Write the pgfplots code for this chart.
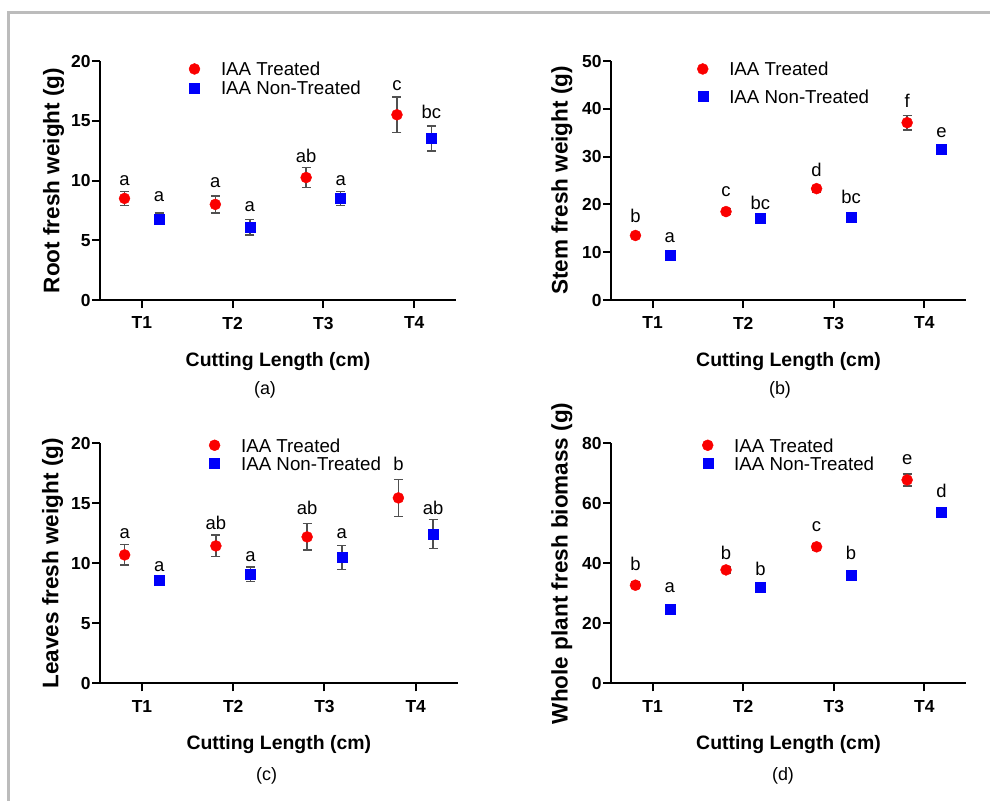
\documentclass[border=0pt]{standalone}
\usepackage{fontspec}
\setmainfont{Liberation Sans}
\usepackage{pgfplots}
\pgfplotsset{compat=1.18}
\definecolor{myred}{RGB}{250,0,0}
\definecolor{myblue}{RGB}{0,0,250}
\definecolor{errgray}{RGB}{80,80,80}
\definecolor{framegray}{RGB}{188,188,188}
\pgfplotsset{
  panel/.style={
    scale only axis, width=356bp, height=239bp,
    xmin=0.54, xmax=4.46, ymin=0,
    axis lines=left, axis line style={line width=2bp, -},
    xtick={1,2,3,4}, xticklabels={T1,T2,T3,T4},
    tick align=outside, major tick length=8bp, tick style={line width=2bp, black},
    ticklabel style={font=\bfseries\fontsize{17.5}{17.5}\selectfont},
    /pgf/number format/assume math mode=true,
    x tick label style={inner sep=0pt, anchor=north, yshift=-8.7bp},
    y tick label style={inner sep=0pt, anchor=east, xshift=-1.3bp},
    xlabel={Cutting Length (cm)},
    x label style={at={(axis description cs:0.5,0)}, anchor=base, yshift=-66bp, font=\bfseries\fontsize{19.5}{19.5}\selectfont},
    y label style={anchor=base, font=\bfseries\fontsize{22.6}{22.6}\selectfont},
    clip=false,
    legend cell align=left,
    legend style={draw=none, fill=none, inner sep=0pt, outer sep=0pt, anchor=north west, column sep=21bp,
      nodes={inner sep=0pt, text height=14bp, text depth=0bp, font=\fontsize{18.8}{18.8}\selectfont}},
  },
  errs/.style={error bars/.cd, y dir=both, y explicit,
      error bar style={color=errgray, line width=1.5bp},
      error mark options={rotate=90, mark size=4.5bp, line width=1.5bp, color=errgray}},
  redpts/.style={only marks, mark=*, mark size=5.5bp, mark options={fill=myred, draw=myred}, errs},
  bluepts/.style={only marks, mark=square*, mark size=5bp, mark options={fill=myblue, draw=myblue}, errs},
  letters/.style={forget plot, only marks, mark=none, nodes near coords, point meta=explicit symbolic,
      nodes near coords style={anchor=base, inner sep=0pt, yshift=0pt, font=\fontsize{18.5}{18.5}\selectfont, text=black}},
}
\begin{document}
\begin{tikzpicture}
\path[use as bounding box] (0,0) rectangle (995bp,-801bp);
\draw[line width=3bp, color=framegray] (8.3bp,-801bp) -- (8.3bp,-12.3bp) -- (990bp,-12.3bp);

% (a)
\begin{axis}[panel, at={(100bp,-300bp)}, anchor=south west,
  ymax=20, ytick={0,5,10,15,20},
  ylabel={Root fresh weight (g)},
  y label style={at={(axis description cs:-0.1143,0.5)}},
  legend style={at={(rel axis cs:0.250,0.996)}, row sep=5bp}]
\addplot[redpts] coordinates {(0.81,8.5) +- (0,0.6) (1.81,8.0) +- (0,0.7) (2.81,10.25) +- (0,0.85) (3.81,15.5) +- (0,1.5)};
\addlegendentry{IAA Treated}
\addplot[bluepts] coordinates {(1.19,6.8) +- (0,0.5) (2.19,6.1) +- (0,0.65) (3.19,8.5) +- (0,0.6) (4.19,13.5) +- (0,1.05)};
\addlegendentry{IAA Non-Treated}
\addplot[letters] coordinates {(0.81,9.62)[a] (1.19,8.23)[a] (1.81,9.43)[a] (2.19,7.39)[a] (2.81,11.52)[ab] (3.19,9.62)[a] (3.81,17.57)[c] (4.19,15.15)[bc]};
\node[anchor=base, font=\fontsize{18}{18}\selectfont] at (axis description cs:0.4635,-0.395) {(a)};
\end{axis}

% (b)
\begin{axis}[panel, at={(611bp,-300bp)}, anchor=south west, width=355bp,
  ymax=50, ytick={0,10,20,30,40,50},
  ylabel={Stem fresh weight (g)},
  y label style={at={(axis description cs:-0.122,0.5)}},
  legend style={at={(rel axis cs:0.243,0.996)}, row sep=13.3bp}]
\addplot[redpts] coordinates {(0.81,13.5) +- (0,0.5) (1.81,18.5) +- (0,0.6) (2.81,23.3) +- (0,0.7) (3.81,37.1) +- (0,1.5)};
\addlegendentry{IAA Treated}
\addplot[bluepts] coordinates {(1.19,9.3) +- (0,0.5) (2.19,17.1) +- (0,0.5) (3.19,17.4) +- (0,0.5) (4.19,31.65) +- (0,0.6)};
\addlegendentry{IAA Non-Treated}
\addplot[letters] coordinates {(0.81,16.2)[b] (1.19,12.0)[a] (1.81,21.6)[c] (2.19,19.0)[bc] (2.81,25.8)[d] (3.19,20.2)[bc] (3.81,40.3)[f] (4.19,34.0)[e]};
\node[anchor=base, font=\fontsize{18}{18}\selectfont] at (axis description cs:0.476,-0.395) {(b)};
\end{axis}

% (c)
\begin{axis}[panel, at={(100bp,-683.3bp)}, anchor=south west, width=357.7bp, height=240bp,
  ymax=20, ytick={0,5,10,15,20},
  ylabel={Leaves fresh weight (g)},
  y label style={at={(axis description cs:-0.1166,0.5)}},
  legend style={at={(rel axis cs:0.305,1.021)}, row sep=4.4bp}]
\addplot[redpts] coordinates {(0.81,10.7) +- (0,0.85) (1.81,11.45) +- (0,0.9) (2.81,12.2) +- (0,1.1) (3.81,15.45) +- (0,1.55)};
\addlegendentry{IAA Treated}
\addplot[bluepts] coordinates {(1.19,8.6) +- (0,0.2) (2.19,9.08) +- (0,0.6) (3.19,10.47) +- (0,1.0) (4.19,12.45) +- (0,1.2)};
\addlegendentry{IAA Non-Treated}
\addplot[letters] coordinates {(0.81,12.03)[a] (1.19,9.3)[a] (1.81,12.83)[ab] (2.19,10.13)[a] (2.81,14.03)[ab] (3.19,12.03)[a] (3.81,17.72)[b] (4.19,14.03)[ab]};
\node[anchor=base, font=\fontsize{18}{18}\selectfont] at (axis description cs:0.466,-0.404) {(c)};
\end{axis}

% (d)
\begin{axis}[panel, at={(611bp,-683.3bp)}, anchor=south west, width=355bp, height=240bp,
  ymax=80, ytick={0,20,40,60,80},
  ylabel={Whole plant fresh biomass (g)},
  y label style={at={(axis description cs:-0.122,0.5)}},
  legend style={at={(rel axis cs:0.257,1.021)}, row sep=4.4bp}]
\addplot[redpts] coordinates {(0.81,32.7) +- (0,1) (1.81,37.8) +- (0,1) (2.81,45.5) +- (0,1) (3.81,67.8) +- (0,2)};
\addlegendentry{IAA Treated}
\addplot[bluepts] coordinates {(1.19,24.6) +- (0,1) (2.19,31.9) +- (0,1) (3.19,36.0) +- (0,1) (4.19,57.1) +- (0,1)};
\addlegendentry{IAA Non-Treated}
\addplot[letters] coordinates {(0.81,37.5)[b] (1.19,30.3)[a] (1.81,41.3)[b] (2.19,36.1)[b] (2.81,50.5)[c] (3.19,41.3)[b] (3.81,72.8)[e] (4.19,62.0)[d]};
\node[anchor=base, font=\fontsize{18}{18}\selectfont] at (axis description cs:0.4845,-0.404) {(d)};
\end{axis}
\end{tikzpicture}
\end{document}
